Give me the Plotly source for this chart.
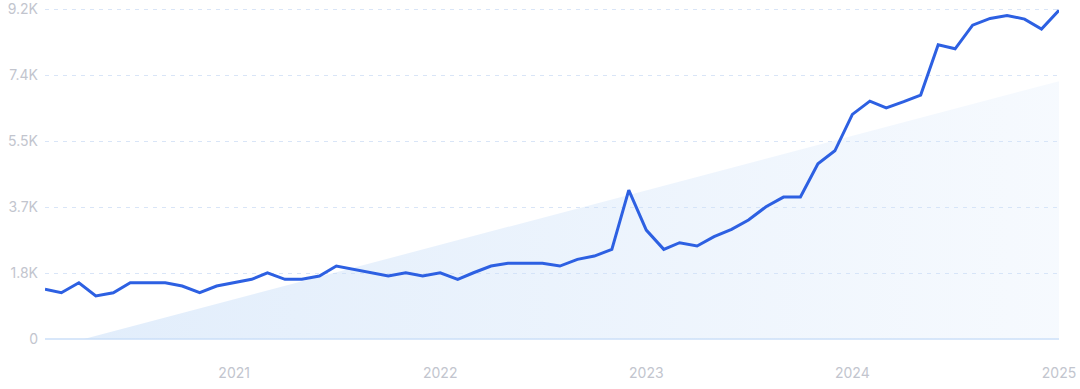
import pandas as pd
import plotly.graph_objects as go

# Monthly values, Feb 2020 .. Jan 2025
dates = pd.date_range("2020-02-01", "2025-01-01", freq="MS")
values = [
    1386, 1291, 1570, 1199, 1291, 1570, 1570, 1570, 1478, 1291,
    1478, 1570, 1664, 1848, 1664, 1664, 1756, 2035, 1943, 1848,
    1756, 1848, 1756, 1848, 1664, 1848, 2035, 2110, 2110, 2110,
    2035, 2221, 2314, 2500, 4154, 3039, 2500, 2686, 2593, 2853,
    3058, 3318, 3689, 3959, 3959, 4888, 5250, 6264, 6635, 6449,
    6620, 6803, 8206, 8094, 8754, 8941, 9025, 8922, 8643, 9172,
]

# Trend area (start, zero point, end)
trend_dates = ["2020-02-01", "2020-04-10", "2025-01-01"]
trend_values = [0, 0, 7190]

y_tickvals = [0, 1840, 3680, 5520, 7360, 9200]
y_ticktext = ["0", "1.8K", "3.7K", "5.5K", "7.4K", "9.2K"]
x_tickvals = ["2021-01-01", "2022-01-01", "2023-01-01", "2024-01-01", "2025-01-01"]
x_ticktext = ["2021", "2022", "2023", "2024", "2025"]

fig = go.Figure()
fig.add_trace(go.Scatter(
    x=trend_dates, y=trend_values, mode="lines", fill="tozeroy",
    line=dict(width=0, color="rgba(0,0,0,0)"),
    fillgradient=dict(type="horizontal",
                      colorscale=[[0, "rgba(200,222,248,0.55)"], [0.5, "rgba(205,225,249,0.4)"], [1, "rgba(210,228,250,0.2)"]]),
    hoverinfo="skip", showlegend=False,
))
fig.add_trace(go.Scatter(
    x=dates, y=values, mode="lines",
    line=dict(color="#2d60e2", width=3),
    showlegend=False,
))

fig.update_layout(
    width=1080, height=389,
    margin=dict(l=45, r=21, t=2, b=50, autoexpand=False),
    paper_bgcolor="white", plot_bgcolor="white",
    font=dict(family="Inter, Roboto, sans-serif", size=14, color="#c2c5ce"),
)
fig.update_xaxes(
    range=["2020-02-01", "2025-01-01"], tickvals=x_tickvals, ticktext=x_ticktext,
    showgrid=False, zeroline=False, showline=False, ticks="",
    ticklabelstandoff=24, tickfont=dict(size=14, color="#c2c5ce"),
)
fig.update_yaxes(
    range=[0, 9400], tickvals=y_tickvals, ticktext=y_ticktext,
    showgrid=True, gridcolor="#d9e5f7", griddash="4px,5px", gridwidth=1,
    zeroline=True, zerolinecolor="#d8e7fa", zerolinewidth=1.5,
    showline=False, ticks="", ticklabelstandoff=6,
    tickfont=dict(size=14, color="#c2c5ce"),
)
fig.write_html("out.html", post_script="document.body.style.margin='0';",
               config={"displayModeBar": False})
